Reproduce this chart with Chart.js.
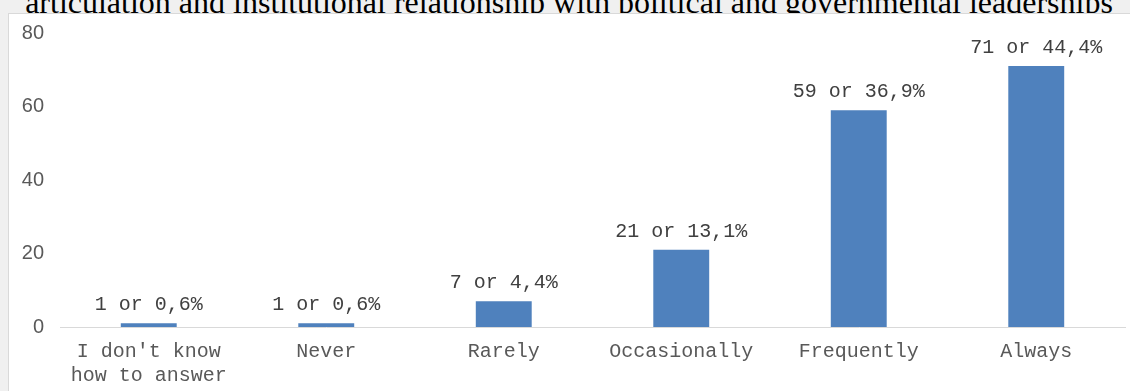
<!DOCTYPE html>
<html>
<head>
<meta charset="utf-8">
<script src="https://cdn.jsdelivr.net/npm/chart.js@4"></script>
<style>
  html, body { margin: 0; padding: 0; }
  body { width: 1130px; height: 391px; background: #f0f0f0; overflow: hidden; position: relative; }
  #title {
    position: absolute; left: 8px; right: 0; top: -14px;
    font-family: "Liberation Serif", "Times New Roman", serif;
    font-size: 32px; line-height: 32px; color: #000; text-align: center; white-space: nowrap;
  }
  #box {
    position: absolute; left: 8px; top: 13px; width: 1130px; height: 390px;
    background: #fff; border: 1px solid #d9d9d9; box-sizing: border-box;
  }
  #wrap { position: absolute; left: 8px; top: 5px; width: 1122px; height: 386px; }
</style>
</head>
<body>
<div id="title">articulation and institutional relationship with political and governmental leaderships</div>
<div id="box"></div>
<div id="wrap"><canvas id="chart"></canvas></div>
<script>
// respostas
const categories = [["I don't know", "how to answer"], "Never", "Rarely", "Occasionally", "Frequently", "Always"];
const counts = [1, 1, 7, 21, 59, 71];
const percents = ["0,6", "0,6", "4,4", "13,1", "36,9", "44,4"];
const yTicks = [0, 20, 40, 60, 80];

const mono = "'Liberation Mono', 'Courier New', monospace";

// rótulos acima das barras
const barLabels = {
    id: "barLabels",
    afterDatasetsDraw(chart) {
        const ctx = chart.ctx;
        const meta = chart.getDatasetMeta(0);
        ctx.save();
        ctx.font = "20px " + mono;
        ctx.fillStyle = "#404040";
        ctx.textAlign = "center";
        ctx.textBaseline = "alphabetic";
        meta.data.forEach((bar, i) => {
            ctx.fillText(counts[i] + " or " + percents[i] + "%", bar.x, bar.y - 13);
        });
        ctx.restore();
    }
};

new Chart(document.getElementById("chart"), {
    type: "bar",
    data: {
        labels: categories,
        datasets: [{
            data: counts,
            backgroundColor: "#4f81bd",
            barPercentage: 0.63,
            categoryPercentage: 0.5
        }]
    },
    options: {
        responsive: true,
        maintainAspectRatio: false,
        animation: false,
        layout: { padding: { top: 11, right: 5, left: 0, bottom: 0 } },
        plugins: { legend: { display: false }, tooltip: { enabled: false } },
        scales: {
            x: {
                grid: { display: false, drawTicks: false },
                border: { display: true, color: "#d9d9d9", width: 1 },
                ticks: { color: "#595959", font: { family: mono, size: 20 }, padding: 13, maxRotation: 0, autoSkip: false },
                afterFit(scale) { scale.height = 64; }
            },
            y: {
                min: yTicks[0],
                max: yTicks[yTicks.length - 1],
                grid: { display: false, drawTicks: false },
                border: { display: false },
                ticks: {
                    stepSize: yTicks[1] - yTicks[0],
                    color: "#595959",
                    font: { family: "'Liberation Sans', Arial, sans-serif", size: 20 },
                    padding: 16
                },
                afterFit(scale) { scale.width = 52; }
            }
        }
    },
    plugins: [barLabels]
});
</script>
</body>
</html>
